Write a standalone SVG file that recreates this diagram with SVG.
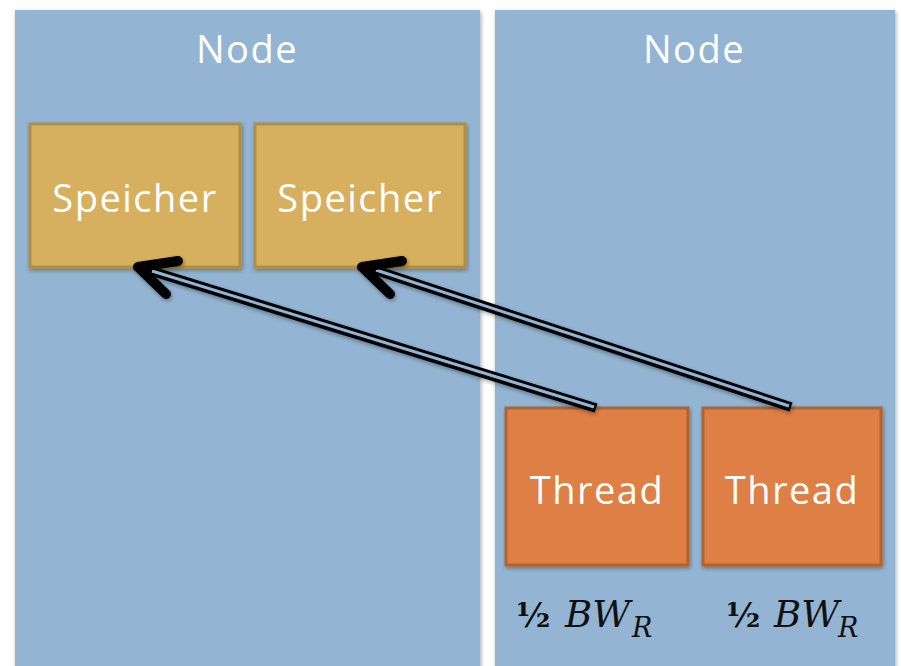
<svg xmlns="http://www.w3.org/2000/svg" width="901" height="666" viewBox="0 0 901 666">
<style>
.panel{fill:#93B5D3;}
.mem{fill:#D6B05E;stroke:#B38E43;stroke-width:3;}
.thr{fill:#DE7F45;stroke:#B4622F;stroke-width:3;}
.lbl{font-family:"Open Sans","Liberation Sans",sans-serif;fill:#FFFFFF;text-anchor:middle;font-size:38px;letter-spacing:1.5px;}
.half{font-family:"DejaVu Serif",serif;font-weight:bold;font-size:33px;fill:#111;}
.bw{font-family:"DejaVu Serif",serif;font-style:italic;font-size:37px;fill:#111;}
.sub{font-family:"DejaVu Serif",serif;font-style:italic;font-size:27px;fill:#111;}
.dl-out{stroke:#000;stroke-width:9.5;fill:none;}
.dl-in{stroke:#93B5D3;stroke-width:3;fill:none;}
.head{stroke:#000;stroke-width:10;fill:none;stroke-linecap:round;stroke-linejoin:round;}
</style>
<defs>
<filter id="sh" x="-10%" y="-10%" width="120%" height="120%">
<feGaussianBlur in="SourceAlpha" stdDeviation="2"/>
<feOffset dx="1" dy="2" result="b"/>
<feComponentTransfer><feFuncA type="linear" slope="0.35"/></feComponentTransfer>
<feMerge><feMergeNode/><feMergeNode in="SourceGraphic"/></feMerge>
</filter>
</defs>
<rect x="0" y="0" width="901" height="666" fill="#FFFFFF"/>
<g id="node-left">
<rect class="panel" x="15" y="10" width="465" height="660" filter="url(#sh)"/>
<text class="lbl" x="247" y="63">Node</text>
</g>
<g id="node-right">
<rect class="panel" x="495" y="10" width="400" height="660" filter="url(#sh)"/>
<text class="lbl" x="694" y="63">Node</text>
</g>
<g id="speicher-1">
<rect class="mem" x="30" y="124" width="210" height="143" filter="url(#sh)"/>
<text class="lbl" x="135" y="212">Speicher</text>
</g>
<g id="speicher-2">
<rect class="mem" x="255" y="124" width="210" height="143" filter="url(#sh)"/>
<text class="lbl" x="360" y="212">Speicher</text>
</g>
<g id="thread-1">
<rect class="thr" x="506" y="408" width="182" height="157" filter="url(#sh)"/>
<text class="lbl" x="597" y="504">Thread</text>
</g>
<g id="thread-2">
<rect class="thr" x="703" y="408" width="178" height="157" filter="url(#sh)"/>
<text class="lbl" x="792" y="504">Thread</text>
</g>
<g id="connectors" filter="url(#sh)">
<line class="dl-out" x1="596" y1="408" x2="148" y2="270"/>
<line class="dl-in" x1="594" y1="407" x2="152" y2="271"/>
<polyline class="head" points="178,261 138,267 166,294"/>
<line class="dl-out" x1="791" y1="407" x2="372" y2="269"/>
<line class="dl-in" x1="789" y1="406" x2="376" y2="270"/>
<polyline class="head" points="402,261 362,267 390,294"/>
</g>
<g id="label-1">
<text class="half" x="516" y="627">½</text>
<text class="bw" x="565" y="627">BW</text>
<text class="sub" x="632" y="637">R</text>
</g>
<g id="label-2">
<text class="half" x="726" y="627">½</text>
<text class="bw" x="774" y="627">BW</text>
<text class="sub" x="838" y="637">R</text>
</g>
</svg>
